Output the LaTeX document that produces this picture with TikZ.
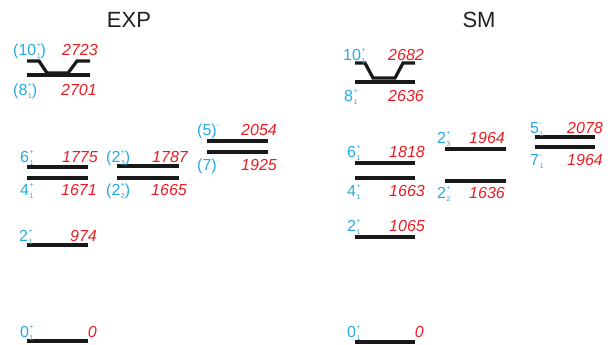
\documentclass[tikz,border=0pt]{standalone}
\usepackage{fontspec}
\setmainfont{Liberation Sans}
\definecolor{lblue}{HTML}{27AAE1}
\definecolor{lred}{HTML}{ED1C24}
\definecolor{ttl}{HTML}{231F20}
\newcommand{\sps}[3]{#1\kern0.5pt\rlap{\raisebox{8pt}{\fontsize{7}{7}\selectfont #2}}\raisebox{-3pt}{\fontsize{7}{7}\selectfont #3}}
\newcommand{\spo}[2]{#1\raisebox{8pt}{\fontsize{7}{7}\selectfont #2}}
\begin{document}
\begin{tikzpicture}[x=1pt,y=-1pt,
  lvl/.style={line width=3.2pt,black!90,line join=miter},
  jp/.style={text=lblue,font=\fontsize{16}{16}\selectfont,inner sep=0pt,anchor=base west},
  en/.style={text=lred,font=\fontsize{16}{16}\selectfont\itshape,inner sep=0pt,anchor=base east},
  ttlst/.style={text=ttl,font=\fontsize{22}{22}\selectfont,inner sep=0pt}]
\useasboundingbox (0,0) rectangle (610,345);
% titles
\node[ttlst] (tE) at (129,20) {EXP};
\node[ttlst] (tS) at (479,20) {SM};
% EXP levels
\draw[lvl] (27,341)--(88,341);
\draw[lvl] (27,245)--(88,245);
\draw[lvl] (27,167)--(88,167);
\draw[lvl] (27,178)--(88,178);
\draw[lvl] (117,166)--(179,166);
\draw[lvl] (117,178)--(179,178);
\draw[lvl] (207,141)--(268,141);
\draw[lvl] (207,152)--(268,152);
\draw[lvl] (27,75)--(90,75);
\draw[lvl] (27,61)--(39,61)--(47,73)--(68,73)--(77,61)--(90,61);
% EXP labels
\node[jp] (e10) at (13,56) {(\sps{10}{+}{1})};
\node[en] (e10e) at (98,56) {2723};
\node[jp] (e8) at (13,95) {(\sps{8}{+}{1})};
\node[en] (e8e) at (97,95) {2701};
\node[jp] (e6) at (20,162) {\sps{6}{+}{1}};
\node[en] (e6e) at (98,162) {1775};
\node[jp] (e4) at (20,195) {\sps{4}{+}{1}};
\node[en] (e4e) at (97,195) {1671};
\node[jp] (e23) at (106,162) {(\sps{2}{+}{3})};
\node[en] (e23e) at (188,162) {1787};
\node[jp] (e22) at (106,195) {(\sps{2}{+}{2})};
\node[en] (e22e) at (187,195) {1665};
\node[jp] (e5) at (197,135) {\spo{(5)}{-}};
\node[en] (e5e) at (277,135) {2054};
\node[jp] (e7) at (197,170) {\spo{(7)}{-}};
\node[en] (e7e) at (277,170) {1925};
\node[jp] (e2) at (19,241) {\sps{2}{+}{1}};
\node[en] (e2e) at (97,241) {974};
\node[jp] (e0) at (20,337) {\sps{0}{+}{1}};
\node[en] (e0e) at (97,337) {0};
% SM levels
\draw[lvl] (355,342)--(415,342);
\draw[lvl] (355,237)--(415,237);
\draw[lvl] (355,163)--(415,163);
\draw[lvl] (355,178)--(415,178);
\draw[lvl] (445,149)--(506,149);
\draw[lvl] (445,181)--(506,181);
\draw[lvl] (535,137)--(595,137);
\draw[lvl] (535,147)--(595,147);
\draw[lvl] (355,82)--(415,82);
\draw[lvl] (355,63)--(365,63)--(373,78)--(395,78)--(403,63)--(415,63);
% SM labels
\node[jp] (s10) at (343,60) {\sps{10}{+}{1}};
\node[en] (s10e) at (424,60) {2682};
\node[jp] (s8) at (344,101) {\sps{8}{+}{1}};
\node[en] (s8e) at (424,101) {2636};
\node[jp] (s6) at (347,157) {\sps{6}{+}{1}};
\node[en] (s6e) at (425,157) {1818};
\node[jp] (s4) at (347,196) {\sps{4}{+}{1}};
\node[en] (s4e) at (425,196) {1663};
\node[jp] (s23) at (437,143) {\sps{2}{+}{3}};
\node[en] (s23e) at (505,143) {1964};
\node[jp] (s22) at (437,198) {\sps{2}{+}{2}};
\node[en] (s22e) at (505,198) {1636};
\node[jp] (s5) at (530,133) {\sps{5}{-}{1}};
\node[en] (s5e) at (603,133) {2078};
\node[jp] (s7) at (530,165) {\sps{7}{-}{1}};
\node[en] (s7e) at (603,165) {1964};
\node[jp] (s2) at (347,231) {\sps{2}{+}{1}};
\node[en] (s2e) at (425,231) {1065};
\node[jp] (s0) at (347,337) {\sps{0}{+}{1}};
\node[en] (s0e) at (424,337) {0};
\end{tikzpicture}
\end{document}
